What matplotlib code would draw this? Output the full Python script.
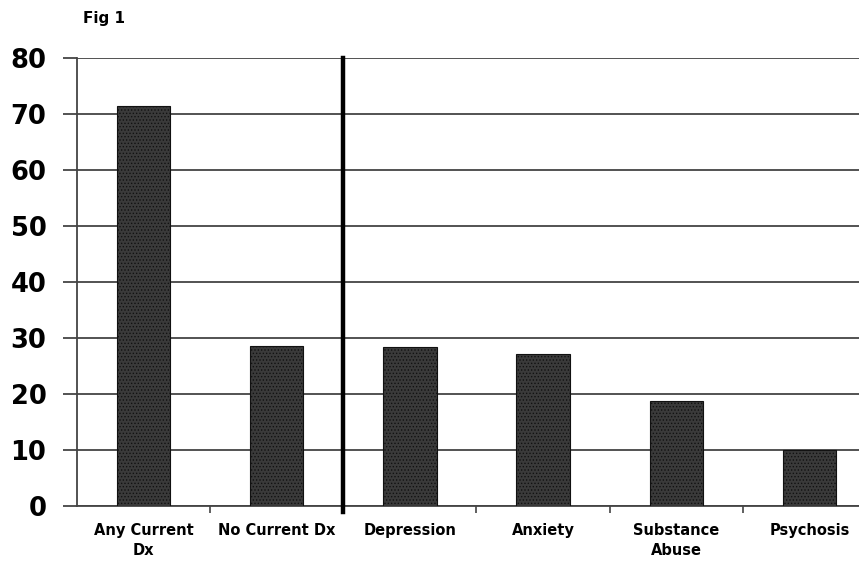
import matplotlib
matplotlib.use("Agg")
import matplotlib.pyplot as plt
import numpy as np

categories = ["Any Current\nDx", "No Current Dx", "Depression", "Anxiety", "Substance\nAbuse", "Psychosis"]
values = [71.4, 28.5, 28.4, 27.1, 18.8, 10.0]
yticks = [0, 10, 20, 30, 40, 50, 60, 70, 80]

W, H = 859, 562
fig = plt.figure(figsize=(W / 100, H / 100), dpi=100)
plt.rcParams['hatch.color'] = '#6a6a6a'
plt.rcParams['hatch.linewidth'] = 0.6

x0, x1 = 77, 876
ytop, ybot = 58, 506
ax = fig.add_axes([x0 / W, (H - ybot) / H, (x1 - x0) / W, (ybot - ytop) / H])

x = np.arange(len(categories))
ax.bar(x, values, width=0.4, color='#3a3a3a', edgecolor='#111111', linewidth=0.8,
       hatch='.....', zorder=3)

ax.set_xlim(-0.5, len(categories) - 0.5)
ax.set_ylim(0, 80)
ax.set_yticks(yticks)
ax.set_yticklabels([str(v) for v in yticks], fontsize=18.5, fontweight='bold',
                   family='DejaVu Sans')
ax.yaxis.grid(True, color='#444444', linewidth=1.3, zorder=1)
ax.set_axisbelow(True)
ax.tick_params(axis='y', length=10, width=1.3, color='#444444', pad=12)

ax.set_xticks(x)
ax.set_xticklabels(categories, fontsize=10.5, fontweight='bold', family='DejaVu Sans',
                   linespacing=1.45)
ax.tick_params(axis='x', length=0, pad=12)
ax.set_xticks(np.arange(0.5, len(categories) - 0.5, 1.0), minor=True)
ax.tick_params(axis='x', which='minor', length=5, width=1.2, color='#444444')

for side in ['top', 'right']:
    ax.spines[side].set_visible(False)
ax.spines['left'].set_color('#444444')
ax.spines['left'].set_linewidth(1.3)
ax.spines['bottom'].set_color('#444444')
ax.spines['bottom'].set_linewidth(1.3)

# thick divider between overall and diagnosis categories
ax.axvline(1.5, ymin=-0.013, ymax=1.0, color='black', linewidth=3.2, zorder=4, clip_on=False)

fig.text(83 / W, 1 - 18 / H, "Fig 1", fontsize=11, fontweight='bold',
         family='DejaVu Sans', va='center', ha='left')

fig.savefig("out.png", dpi=100)
